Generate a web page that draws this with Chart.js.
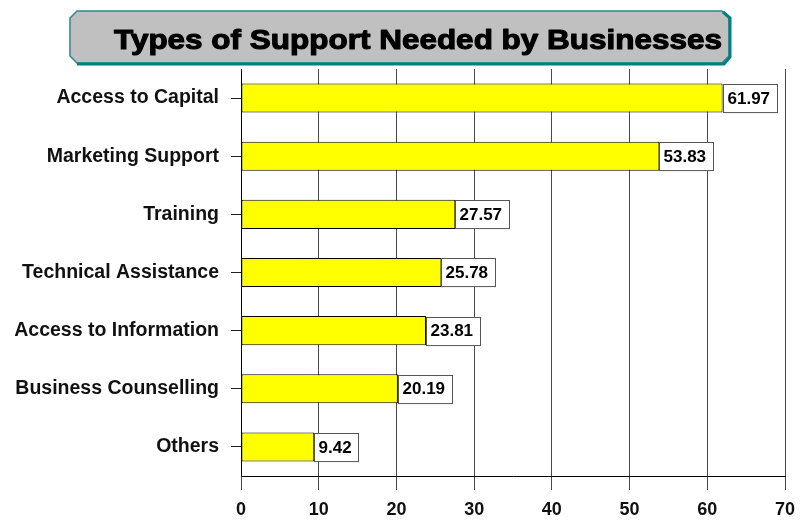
<!DOCTYPE html>
<html>
<head>
<meta charset="utf-8">
<script src="https://cdn.jsdelivr.net/npm/chart.js@4/dist/chart.umd.min.js"></script>
<style>
  html, body { margin: 0; padding: 0; background: #fff; }
  #wrap { width: 807px; height: 521px; }
</style>
</head>
<body>
<div id="wrap"><canvas id="supportChart" width="807" height="521"></canvas></div>
<script>
const chartTitle = 'Types of Support Needed by Businesses';
const categories = ['Access to Capital', 'Marketing Support', 'Training', 'Technical Assistance',
                    'Access to Information', 'Business Counselling', 'Others'];
const percentages = [61.97, 53.83, 27.57, 25.78, 23.81, 20.19, 9.42];
const xTicks = [0, 10, 20, 30, 40, 50, 60, 70];

const FONT = '"Liberation Sans", Arial, sans-serif';

// grey banner with clipped corners and the heading text
const titleBanner = {
  id: 'titleBanner',
  beforeDraw(chart) {
    const ctx = chart.ctx;
    const x0 = 70, y0 = 11, x1 = 729, y1 = 63, c = 7;
    ctx.save();
    ctx.beginPath();
    ctx.moveTo(x0 + c, y0);
    ctx.lineTo(x1 - c, y0);
    ctx.lineTo(x1, y0 + c);
    ctx.lineTo(x1, y1 - c);
    ctx.lineTo(x1 - c, y1);
    ctx.lineTo(x0 + c, y1);
    ctx.lineTo(x0, y1 - c);
    ctx.lineTo(x0, y0 + c);
    ctx.closePath();
    ctx.fillStyle = '#c0c0c0';
    ctx.fill();
    ctx.lineWidth = 1.5;
    ctx.strokeStyle = '#2a8a8a';
    ctx.stroke();
    // heavier teal edge on the right and bottom
    ctx.beginPath();
    ctx.moveTo(x1 - c + 1, y0 + 1);
    ctx.lineTo(x1 + 1, y0 + c);
    ctx.lineTo(x1 + 1, y1 - c + 1);
    ctx.lineTo(x1 - c + 2, y1 + 1);
    ctx.lineTo(x0 + c, y1 + 1);
    ctx.lineWidth = 3;
    ctx.strokeStyle = '#008080';
    ctx.stroke();

    ctx.font = 'bold 28px ' + FONT;
    const w = ctx.measureText(chartTitle).width;
    const sx = 608 / w;
    ctx.translate(418, 49);
    ctx.scale(sx, 1);
    ctx.fillStyle = '#000';
    ctx.strokeStyle = '#000';
    ctx.lineWidth = 1.1;
    ctx.lineJoin = 'round';
    ctx.textAlign = 'center';
    ctx.textBaseline = 'alphabetic';
    ctx.fillText(chartTitle, 0, 0);
    ctx.strokeText(chartTitle, 0, 0);
    ctx.restore();
  }
};

// white boxes with the value, sitting at the end of each bar
const valueBoxes = {
  id: 'valueBoxes',
  afterDatasetsDraw(chart) {
    const ctx = chart.ctx;
    const meta = chart.getDatasetMeta(0);
    ctx.save();
    ctx.font = 'bold 17px ' + FONT;
    meta.data.forEach((bar, i) => {
      const txt = percentages[i].toFixed(2);
      const tw = ctx.measureText(txt).width;
      const h = bar.height - 1;
      const left = Math.round(bar.x) + 0.5;
      const top = Math.round(bar.y - h / 2) + 0.5;
      const bw = Math.round(tw + 11);
      ctx.fillStyle = '#fff';
      ctx.fillRect(left, top, bw, h);
      ctx.strokeStyle = '#555';
      ctx.lineWidth = 1;
      ctx.strokeRect(left, top, bw, h);
      ctx.fillStyle = '#000';
      ctx.textAlign = 'left';
      ctx.textBaseline = 'middle';
      ctx.fillText(txt, left + 4, bar.y + 1);
    });
    ctx.restore();
  }
};

new Chart(document.getElementById('supportChart'), {
  type: 'bar',
  data: {
    labels: categories,
    datasets: [{
      data: percentages,
      backgroundColor: '#ffff00',
      borderColor: '#000',
      borderWidth: 1,
      borderSkipped: false,
      categoryPercentage: 1,
      barPercentage: 0.5
    }]
  },
  options: {
    indexAxis: 'y',
    responsive: false,
    animation: false,
    events: [],
    layout: { padding: { top: 69, right: 22, left: 0, bottom: 0 } },
    plugins: {
      legend: { display: false },
      tooltip: { enabled: false },
      title: { display: false }
    },
    scales: {
      x: {
        min: 0,
        max: 70,
        afterBuildTicks(scale) { scale.ticks = xTicks.map(v => ({ value: v })); },
        afterFit(scale) { scale.height = 45; },
        grid: { color: '#4a4a4a', lineWidth: 1, tickLength: 14 },
        border: { color: '#000', width: 1 },
        ticks: {
          color: '#111',
          padding: 9,
          maxRotation: 0,
          font: { family: FONT, size: 18, weight: 'bold' }
        }
      },
      y: {
        afterFit(scale) { scale.width = 241; },
        grid: { drawOnChartArea: false, offset: false, tickLength: 10, color: '#222' },
        border: { color: '#000', width: 1 },
        ticks: {
          color: '#111',
          padding: 12,
          font: { family: FONT, size: 19.5, weight: 'bold' }
        }
      }
    }
  },
  plugins: [titleBanner, valueBoxes]
});
</script>
</body>
</html>
